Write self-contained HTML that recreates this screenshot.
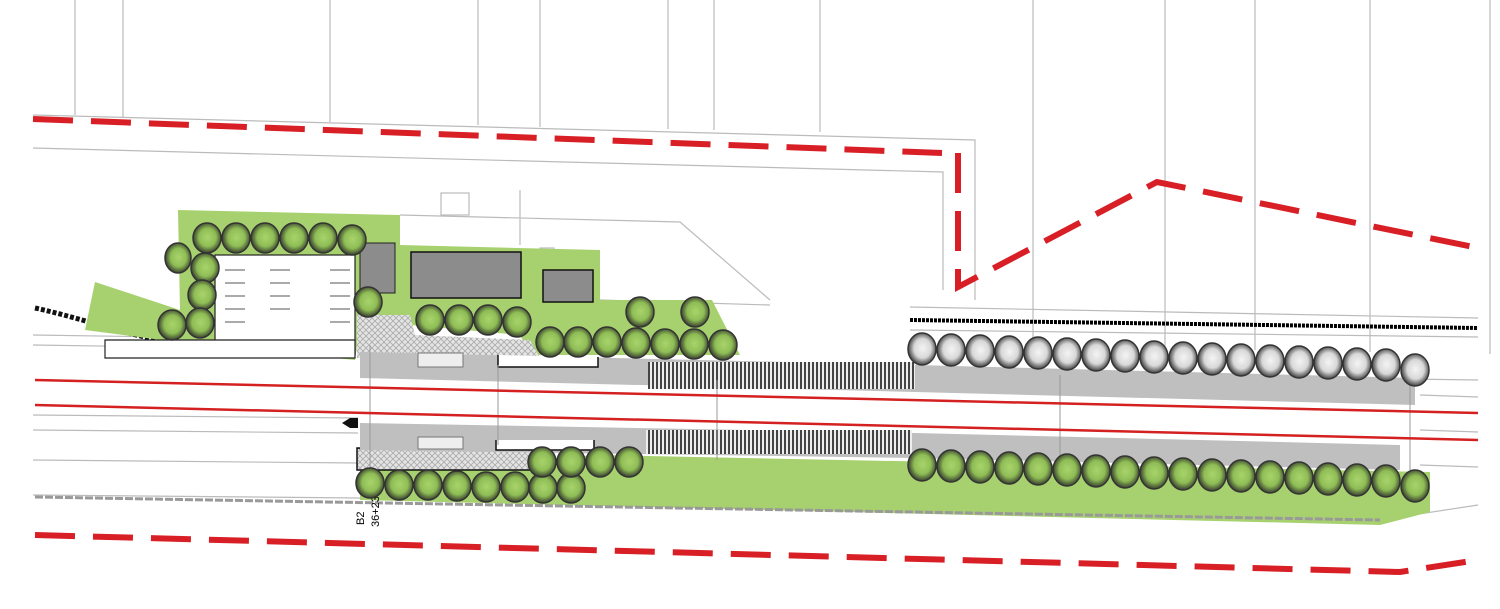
<!DOCTYPE html>
<html><head><meta charset="utf-8"><style>
html,body{margin:0;padding:0;background:#fff}
svg{display:block}
text{font-family:"Liberation Sans",sans-serif}
</style></head><body>
<svg width="1500" height="609" viewBox="0 0 1500 609" xmlns="http://www.w3.org/2000/svg">
<defs>
<pattern id="pav" width="6" height="6" patternUnits="userSpaceOnUse">
<rect width="6" height="6" fill="#e4e4e4"/><path d="M0 0L6 6M6 0L0 6" stroke="#aaa" stroke-width="0.8"/></pattern>
<pattern id="steps" width="4" height="10" patternUnits="userSpaceOnUse">
<rect width="4" height="10" fill="#eee"/><rect width="2" height="10" fill="#444"/></pattern>
<radialGradient id="tg" cx="52%" cy="48%" r="55%"><stop offset="0" stop-color="#a9d46c"/><stop offset="0.55" stop-color="#8fbd55"/><stop offset="0.85" stop-color="#4d5e38"/><stop offset="1" stop-color="#333"/></radialGradient>
<radialGradient id="tw" cx="52%" cy="48%" r="55%"><stop offset="0" stop-color="#f4f4f4"/><stop offset="0.55" stop-color="#d8d8d8"/><stop offset="0.85" stop-color="#666"/><stop offset="1" stop-color="#333"/></radialGradient>
</defs>
<g stroke="#bbb" stroke-width="1.2" fill="none">
<path d="M75 0V115M123 0V117M330 0V122M478 0V125M540 0V127M668 0V129M714 0V130M820 0V132M1033 0V345M1165 0V348M1255 0V350M1370 0V352M1490 0V354"/>
<path d="M33 115L975 140V300"/>
<path d="M33 148L943 172V290"/>
<path d="M33 335L358 340M33 345L358 350M33 430L358 433M33 460L358 463M33 495L360 498M33 415L358 418"/>
<path d="M910 307L1478 318M910 330L1478 337M910 372L1478 380M1420 395L1478 397M1420 430L1478 432M1420 465L1478 467M1380 520L1478 505"/>
<path d="M400 215L680 222L770 300M520 190V245M600 300L770 305"/>
<rect x="441" y="193" width="28" height="22"/><rect x="540" y="248" width="14" height="8"/>
</g>
<path d="M910 320L1478 328" stroke="#000" stroke-width="4" stroke-dasharray="3 1"/>
<path d="M35 308C90 320 140 340 190 345" stroke="#111" stroke-width="5" fill="none" stroke-dasharray="4 2"/>
<g fill="#a7d16f">
<polygon points="178,210 400,215 400,245 600,250 600,300 712,300 740,355 530,355 520,335 410,325 360,325 355,360 200,345 85,330 95,282 180,310"/>
<polygon points="360,470 600,455 1430,472 1430,512 1380,525 360,500"/>
</g>
<rect x="215" y="255" width="140" height="100" fill="#fff" stroke="#222" stroke-width="1.2"/>
<g stroke="#555" stroke-width="1"><path d="M225 270h20M225 283h20M225 296h20M225 309h20M225 322h20M270 270h20M270 283h20M270 296h20M270 309h20M330 270h20M330 283h20M330 296h20M330 309h20M330 322h20"/></g>
<path d="M105 340h250v18H105z" fill="#fff" stroke="#222" stroke-width="1.2"/>
<rect x="360" y="243" width="35" height="50" fill="#8c8c8c" stroke="#222"/>
<rect x="411" y="252" width="110" height="46" fill="#8c8c8c" stroke="#111" stroke-width="1.5"/>
<rect x="543" y="270" width="50" height="32" fill="#8c8c8c" stroke="#111" stroke-width="1.5"/>
<polygon points="357,315 410,315 415,335 530,340 540,358 357,358" fill="url(#pav)"/>
<polygon points="357,448 535,450 535,470 357,470" fill="url(#pav)" stroke="#111" stroke-width="1.5"/>
<polygon points="360,352 915,365 1415,378 1415,405 915,392 360,378" fill="#bfbfbf"/>
<polygon points="360,423 915,433 1400,445 1400,470 915,458 360,450" fill="#bfbfbf"/>
<rect x="648" y="362" width="267" height="27" fill="url(#steps)"/>
<rect x="646" y="430" width="266" height="24" fill="url(#steps)"/>
<rect x="418" y="353" width="45" height="14" fill="#eee" stroke="#777"/>
<rect x="418" y="437" width="45" height="12" fill="#eee" stroke="#777"/>
<path d="M498 355v12h100v-10" fill="#fff" stroke="#111" stroke-width="1.5"/>
<path d="M496 440v10h98v-10" fill="#fff" stroke="#111" stroke-width="1.5"/>
<g stroke="#999" fill="none"><path d="M370 345V470M498 365V445M717 380V460M1060 375V470M1410 380V470"/></g>
<path d="M35 380L1478 413" stroke="#d42020" stroke-width="2.5"/>
<path d="M35 405L1478 440" stroke="#d42020" stroke-width="2.5"/>
<path d="M35 497L1380 520" stroke="#999" stroke-width="3" stroke-dasharray="8 2"/>
<g stroke="#d81f26" stroke-width="6" fill="none" stroke-dasharray="40 18">
<path d="M33 119L942 153"/>
<path d="M958 153V287L1157 182L1478 248"/>
<path d="M35 535L1400 572L1478 560"/>
</g>
<path d="M342 423l8-5h8v10h-8z" fill="#111"/>
<text x="347" y="522" font-size="11" transform="rotate(-90 357 515)">B2</text>
<text x="362" y="530" font-size="11" transform="rotate(-90 369 520)">36+236</text>
<rect x="637" y="302" width="8" height="10" fill="#2aa0e0"/>
<g stroke="#333" stroke-width="1.5" fill="url(#tg)">
<ellipse cx="207" cy="238" rx="14" ry="15"/><ellipse cx="236" cy="238" rx="14" ry="15"/><ellipse cx="265" cy="238" rx="14" ry="15"/><ellipse cx="294" cy="238" rx="14" ry="15"/><ellipse cx="323" cy="238" rx="14" ry="15"/><ellipse cx="352" cy="240" rx="14" ry="15"/>
<ellipse cx="178" cy="258" rx="13" ry="15"/><ellipse cx="205" cy="268" rx="14" ry="15"/><ellipse cx="202" cy="295" rx="14" ry="15"/><ellipse cx="172" cy="325" rx="14" ry="15"/><ellipse cx="200" cy="323" rx="14" ry="15"/>
<ellipse cx="368" cy="302" rx="14" ry="15"/>
<ellipse cx="430" cy="320" rx="14" ry="15"/><ellipse cx="459" cy="320" rx="14" ry="15"/><ellipse cx="488" cy="320" rx="14" ry="15"/><ellipse cx="517" cy="322" rx="14" ry="15"/>
<ellipse cx="640" cy="312" rx="14" ry="15"/><ellipse cx="695" cy="312" rx="14" ry="15"/>
<ellipse cx="550" cy="342" rx="14" ry="15"/><ellipse cx="578" cy="342" rx="14" ry="15"/><ellipse cx="607" cy="342" rx="14" ry="15"/><ellipse cx="636" cy="343" rx="14" ry="15"/><ellipse cx="665" cy="344" rx="14" ry="15"/><ellipse cx="694" cy="344" rx="14" ry="15"/><ellipse cx="723" cy="345" rx="14" ry="15"/>
<ellipse cx="370" cy="483" rx="14" ry="15"/><ellipse cx="399" cy="485" rx="14" ry="15"/><ellipse cx="428" cy="485" rx="14" ry="15"/><ellipse cx="457" cy="486" rx="14" ry="15"/><ellipse cx="486" cy="487" rx="14" ry="15"/><ellipse cx="515" cy="487" rx="14" ry="15"/><ellipse cx="543" cy="488" rx="14" ry="15"/><ellipse cx="571" cy="488" rx="14" ry="15"/>
<ellipse cx="542" cy="462" rx="14" ry="15"/><ellipse cx="571" cy="462" rx="14" ry="15"/><ellipse cx="600" cy="462" rx="14" ry="15"/><ellipse cx="629" cy="462" rx="14" ry="15"/>
</g>
<g stroke="#333" stroke-width="1.5" fill="url(#tw)">
<ellipse cx="922" cy="349" rx="14" ry="16"/><ellipse cx="951" cy="350" rx="14" ry="16"/><ellipse cx="980" cy="351" rx="14" ry="16"/><ellipse cx="1009" cy="352" rx="14" ry="16"/><ellipse cx="1038" cy="353" rx="14" ry="16"/><ellipse cx="1067" cy="354" rx="14" ry="16"/><ellipse cx="1096" cy="355" rx="14" ry="16"/><ellipse cx="1125" cy="356" rx="14" ry="16"/><ellipse cx="1154" cy="357" rx="14" ry="16"/><ellipse cx="1183" cy="358" rx="14" ry="16"/><ellipse cx="1212" cy="359" rx="14" ry="16"/><ellipse cx="1241" cy="360" rx="14" ry="16"/><ellipse cx="1270" cy="361" rx="14" ry="16"/><ellipse cx="1299" cy="362" rx="14" ry="16"/><ellipse cx="1328" cy="363" rx="14" ry="16"/><ellipse cx="1357" cy="364" rx="14" ry="16"/><ellipse cx="1386" cy="365" rx="14" ry="16"/><ellipse cx="1415" cy="370" rx="14" ry="16"/>
</g>
<g stroke="#333" stroke-width="1.5" fill="url(#tg)">
<ellipse cx="922" cy="465" rx="14" ry="16"/><ellipse cx="951" cy="466" rx="14" ry="16"/><ellipse cx="980" cy="467" rx="14" ry="16"/><ellipse cx="1009" cy="468" rx="14" ry="16"/><ellipse cx="1038" cy="469" rx="14" ry="16"/><ellipse cx="1067" cy="470" rx="14" ry="16"/><ellipse cx="1096" cy="471" rx="14" ry="16"/><ellipse cx="1125" cy="472" rx="14" ry="16"/><ellipse cx="1154" cy="473" rx="14" ry="16"/><ellipse cx="1183" cy="474" rx="14" ry="16"/><ellipse cx="1212" cy="475" rx="14" ry="16"/><ellipse cx="1241" cy="476" rx="14" ry="16"/><ellipse cx="1270" cy="477" rx="14" ry="16"/><ellipse cx="1299" cy="478" rx="14" ry="16"/><ellipse cx="1328" cy="479" rx="14" ry="16"/><ellipse cx="1357" cy="480" rx="14" ry="16"/><ellipse cx="1386" cy="481" rx="14" ry="16"/><ellipse cx="1415" cy="486" rx="14" ry="16"/>
</g>
</svg>
</body></html>
